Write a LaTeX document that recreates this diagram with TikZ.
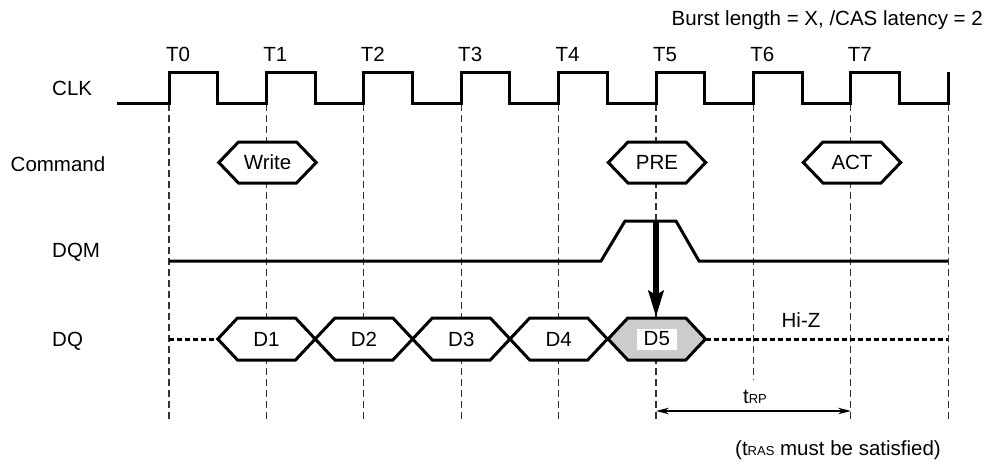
\documentclass[tikz,border=0pt]{standalone}
\usepackage{fontspec}
\setmainfont{Liberation Sans}
\usetikzlibrary{arrows.meta}
\tikzset{
  pics/hexa/.style n args={4}{code={
    \filldraw[sig, fill=#2] (-48.7,0) -- (-29,-#3) -- (29,-#3) -- (48.7,0) -- (29,#3) -- (-29,#3) -- cycle;
    \node[lbl,#4] (-lab) at (0,0) {#1};
  }}
}
\begin{document}
\begin{tikzpicture}[x=1pt,y=-1pt,
  sig/.style={line width=3pt, line join=miter},
  gridline/.style={line width=1.2pt, dash pattern=on 7pt off 4pt, black!80},
  lbl/.style={font=\fontsize{20.5}{24}\selectfont, inner sep=0pt},
  hiz/.style={line width=3pt, dash pattern=on 5pt off 3pt},
  subtxt/.style={font=\fontsize{13}{13}\selectfont}]
\useasboundingbox (0,0) rectangle (986,461);
\def\P{97.4}
% vertical dashed lines
\foreach \k in {0,1,2,3,4,5,7,8}
  \draw[gridline] ({169+\P*\k},104) -- ({169+\P*\k},420);
\draw[gridline] ({169+\P*6},104) -- ({169+\P*6},380);
% title
\node[lbl, anchor=base east] (title) at (983,25) {Burst length = X, /CAS latency = 2};
% time labels
\foreach \k in {0,...,7}
  \node[lbl, anchor=base] (t\k) at ({178+\P*\k},61.7) {T\k};
% signal names
\node[lbl, anchor=base west] (clk) at (52,95) {CLK};
\node[lbl, anchor=base west] (cmd) at (10.5,171.5) {Command};
\node[lbl, anchor=base west] (dqm) at (52,257) {DQM};
\node[lbl, anchor=base west] (dq) at (52,346) {DQ};
% CLK
\draw[sig] (117,103) foreach \k in {0,...,7} {
   -- ({169+\P*\k},103) -- ({169+\P*\k},72) -- ({169+\P*\k+\P/2},72) -- ({169+\P*\k+\P/2},103) }
   -- ({169+\P*8},103) -- ({169+\P*8},72);
% commands
\pic (write) at (267.5,162.5) {hexa={Write}{white}{20.5}{}};
\pic (pre) at (657,162.5) {hexa={PRE}{white}{20.5}{}};
\pic (act) at (852,162.5) {hexa={ACT}{white}{20.5}{}};
% DQM
\draw[sig] (169,261) -- (601,261) -- (625,221) -- (676,221) -- (699,261) -- ({169+\P*8},261);
% DQ
\coordinate (dqs) at (169,339);
\coordinate (d1l) at (217.7,339);
\coordinate (d5r) at (705.5,339);
\coordinate (dqe) at ({169+\P*8},339);
\draw[hiz] (dqs) -- (d1l);
\draw[hiz] (d5r) -- (dqe);
\pic (d1) at (266.5,339) {hexa={D1}{white}{21}{}};
\pic (d2) at (363.9,339) {hexa={D2}{white}{21}{}};
\pic (d3) at (461.3,339) {hexa={D3}{white}{21}{}};
\pic (d4) at (558.7,339) {hexa={D4}{white}{21}{}};
\pic (d5) at (656.8,339) {hexa={D5}{black!20}{21}{fill=white, minimum width=40pt, minimum height=21pt}};
\node[lbl, anchor=base] (hz) at (801,327) {Hi-Z};
% DQM arrow
\coordinate (arrs) at (656,221);
\coordinate (arre) at (656,317);
\draw[line width=5.5pt, -{Stealth[length=26pt,width=15pt,inset=4pt]}] (arrs) -- (arre);
% tRP
\coordinate (trpa) at (656,411);
\coordinate (trpb) at (851,411);
\draw[line width=1.3pt, {Stealth[length=13pt,width=6.5pt]}-{Stealth[length=13pt,width=6.5pt]}] (trpa) -- (trpb);
\node[lbl, anchor=base] (trp) at (755,403) {t{\fontsize{13}{13}\selectfont RP}};
\node[lbl, anchor=base] (tras) at (838,455) {(t{\fontsize{13}{13}\selectfont RAS} must be satisfied)};
\end{tikzpicture}
\end{document}
